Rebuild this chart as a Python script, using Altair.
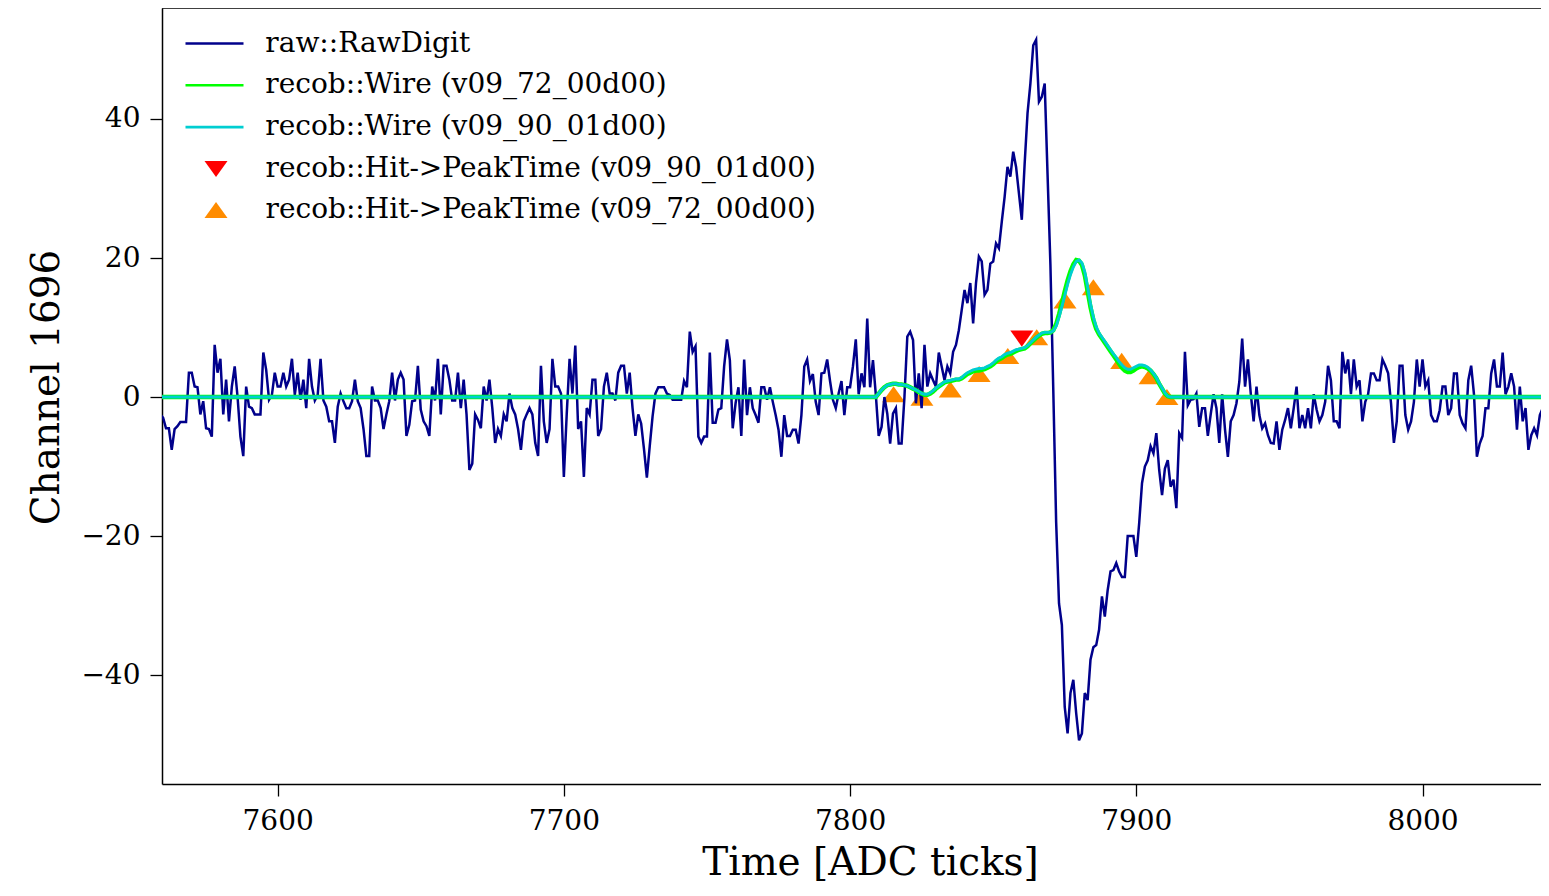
import altair as alt
import pandas as pd

FONT = "DejaVu Serif"

# ---- axes ----
x_domain = [7559.6, 8041.4]
y_domain = [-55.68, 55.97]
x_ticks = [7600, 7700, 7800, 7900, 8000]
y_ticks = [-40, -20, 0, 20, 40]
x_title = "Time [ADC ticks]"
y_title = "Channel 1696"

# ---- series names / colours ----
series_names = ["raw::RawDigit", "recob::Wire (v09_72_00d00)", "recob::Wire (v09_90_01d00)"]
series_colors = ["#00008b", "#00ff00", "#00ced1"]
hit_names = ["recob::Hit->PeakTime (v09_90_01d00)", "recob::Hit->PeakTime (v09_72_00d00)"]
hit_colors = ["#ff0000", "#ff8c00"]
hit_shapes = ["M-1,-0.7L1,-0.7L0,0.7Z", "M0,-0.7L1,0.7L-1,0.7Z"]

# ---- raw::RawDigit, one value per tick starting at 7559 ----
raw_first_tick = 7559
raw_7559 = [-2.5]
raw_7560 = [-3.0, -4.5, -4.5, -7.6, -4.6, -4.2, -3.6, -3.6, -3.6, 3.5,
            3.5, 1.5, 1.4, -2.5, -0.6, -4.5, -4.6, -5.7, 7.5, 3.5,
            5.5, -2.5, 2.5, -3.5, 1.5, 4.4, 0.0, -5.7, -8.5, 1.5,
            -1.4, -1.6, -2.5, -2.5, -2.5, 6.4, 3.9, -0.4, 0.3, 3.5,
            1.5, 1.5, 3.5, 1.5, 2.5, 5.5, 0.3, 3.5, -0.4, 2.5,
            -1.6, 5.5, 1.5, -0.5, 0.3, 5.5, -0.5, -1.4, -3.5, -3.5,
            -6.6, -1.4, 0.5, -0.6, -1.6, -1.6, -0.6, 2.5, -0.6, -1.6,
            -4.6, -8.5, -8.5, 1.5, -0.5, -0.5, -1.6, -4.6, -2.5, -0.6,
            3.5, -0.5, 2.5, 3.5]
raw_7644 = [2.5, -5.6, -4.0, -0.6, -0.5, 4.5, -1.8, -3.5, -4.2, -5.6,
            1.5, -0.5, 5.5, -2.5, 4.5, 4.5, 2.5, -0.5, -0.5, 3.5,
            -1.6, 2.5, -2.5, -10.5, -9.6, -2.5, -3.3, -4.5, 1.5, -0.5,
            2.5, -1.6, -6.6, -4.6, -5.6, -2.5, -3.5, 0.5, -1.6, -2.5,
            -4.6, -7.6, -3.5, -2.5, -1.6, -2.5, -6.6, -8.5, 4.5, -3.5,
            -6.6, -4.6, 5.5, 1.5, 1.5, 0.5, -11.5, -2.5, 5.5, 0.5,
            7.4, -4.6, -3.5, -11.5, -1.6, -2.5, 2.5, 2.5, -5.6, -4.6,
            1.5, 3.5, 0.5, 0.5, -0.5, 3.5, 4.5, 4.5, 0.5, 3.5,
            -1.6, -5.6, -2.5]
raw_7727 = [-3.8, -7.5, -11.6, -7.1, -2.8, 0.5, 1.4, 1.4, 1.4, 0.5,
            0.3, -0.4, -0.4, -0.4, -0.4, 2.3, 1.4, 9.4, 6.5, 7.3,
            -5.7, -6.6, -5.7, -5.7, 6.4, -3.7, -3.7, -1.8, -1.6, 4.4,
            8.3, 5.3, -4.5, -0.9, 1.4, -5.6, 5.4, -2.6, 1.4, -1.6,
            -2.6, -3.7, 1.4, 1.4, -0.4, 1.4, -0.7, -2.6, -4.7, -8.6,
            -2.6, -5.6, -5.6, -4.7, -4.7, -6.7, -2.6, 4.4, 5.4, 2.3,
            3.3, -0.7, -2.6, 3.4, 3.5, 5.4, 2.3, -0.4, -1.6, 0.5,
            2.3, -2.6, 1.4, 1.4, 4.4, 8.3, 0.4, 3.4, 1.4, 11.3,
            1.4, 5.3, 0.3, -5.6]
raw_7811 = [-4.3, 0.0, -2.4, -6.7, -2.4, -1.6, -6.7, -6.7, 0.0, 8.7,
            9.4, 8.2, -0.9, 3.4, -1.6, 7.5, 1.5, 3.4, 2.4, 1.5,
            6.4, 4.4, 2.4, 4.4, 3.4, 6.5, 7.5, 9.6, 12.5, 15.4,
            13.5, 16.4, 10.6, 16.4, 20.2, 19.5, 14.7, 15.4, 19.2, 19.5,
            22.1, 21.4, 25.2, 28.8, 33.1, 31.7, 35.3, 33.1, 29.3, 25.5,
            33.6, 40.8, 45.1, 50.6, 51.4, 42.5, 43.2, 45.1, 32.0, 19.0,
            1.0, -18.0, -29.7]
raw_7874 = [-32.8, -44.6, -48.4, -42.6, -40.7, -45.5, -49.4, -48.4, -42.6, -43.6,
            -37.8, -36.0, -35.7, -33.5, -28.7, -31.6, -27.8, -25.1, -24.9, -23.9,
            -25.1, -25.9, -25.9, -20.0, -20.0, -20.0, -23.0, -18.2, -12.4, -10.0,
            -9.1, -7.1, -8.1, -5.2, -10.5, -14.1, -10.3, -9.1, -12.9, -11.9,
            -16.0, -5.2, -5.9, 6.5, -1.2, -0.4, -0.3, 0.5, -4.3]
raw_7923 = [-1.6, -1.6, -5.6, -2.5, 0.4, -1.6, -6.6, 0.4, -4.7, -8.6,
            -3.5, -2.6, -0.9, 2.2, 8.4, 1.5, 5.4, 0.5, -3.5, 1.5,
            -2.6, -4.5, -3.8, -5.5, -6.6, -6.7, -3.5, -7.6, -4.7, -3.3,
            -1.6, -4.5, -1.6, 1.5, -4.5, -2.6, -4.5, -1.6, -4.5, 0.4,
            -1.8, -3.5, -2.6, -0.7, 4.5, 2.4, -3.5, -3.5, -4.5, 6.5,
            3.4, 5.4, 0.4, 5.4, 1.5, 2.4, -3.5, -0.7, 0.4, 3.4,
            3.4, 2.4, 2.4]
raw_7986 = [5.4, 4.5, 3.4, -0.9, -6.6, -3.5, 4.5, 4.5, -2.6, -4.7,
            -3.5, -0.7, 5.4, 1.5, 5.4, 1.5, 2.4, -2.6, -3.5, -3.5,
            -1.9, 1.5, 1.5, -2.6, -1.6, 3.4, 3.4, -2.6, -3.8, -4.5,
            2.4, 4.5, 0.3, -8.6, -6.7, -5.6, -1.6, -1.6, 3.4, 5.4,
            1.5, 1.5, 6.4, 0.4, 1.5, 3.4, 1.5, -4.7, 1.5, -3.5,
            -1.6, -7.6, -5.5, -4.5, -5.5, -2.6, -1.6, 6.4, -2.6, -3.0]

# ---- recob::Wire signals (zero outside the region of interest) ----
wire_edges = [7559, 8045]
wire_first_tick = 7809
wire_v09_72 = [0.0,
               0.5, 1.0, 1.4, 1.7, 1.8, 1.9, 1.9, 1.8, 1.8, 1.7,
               1.6, 1.4, 1.2, 1.0, 0.7, 0.5, 0.3, 0.3, 0.5, 0.8,
               1.2, 1.5, 1.8, 2.1, 2.2, 2.3, 2.4, 2.5, 2.5, 2.7,
               3.0, 3.3, 3.5, 3.7, 3.8, 3.8, 3.9, 4.0, 4.2, 4.4,
               4.7, 5.1, 5.4, 5.6, 5.9, 6.1, 6.2, 6.4, 6.6, 6.8,
               6.9, 7.0, 7.3, 7.7, 8.1, 8.5, 8.8, 9.1, 9.2, 9.2,
               9.3, 9.6, 10.5, 11.9, 13.5, 15.2, 16.8, 18.1, 19.1, 19.7,
               19.6, 19.0, 17.5, 15.2, 12.9, 11.1, 9.8, 9.0, 8.4, 7.8,
               7.2, 6.6, 6.0, 5.4, 4.8, 4.2, 3.8, 3.6, 3.6, 3.8,
               4.1, 4.3, 4.4, 4.3, 4.1, 3.8, 3.3, 2.7, 1.9, 1.2,
               0.5, 0.1, 0.0]
wire_v09_90 = [0.0,
               0.5, 1.0, 1.4, 1.7, 1.8, 1.9, 1.9, 1.8, 1.8, 1.7,
               1.6, 1.4, 1.2, 1.0, 0.8, 0.5, 0.4, 0.4, 0.6, 0.9,
               1.3, 1.6, 1.9, 2.2, 2.3, 2.4, 2.5, 2.6, 2.6, 2.8,
               3.2, 3.5, 3.7, 3.9, 4.0, 4.1, 4.1, 4.2, 4.4, 4.6,
               4.9, 5.3, 5.6, 5.8, 6.1, 6.3, 6.4, 6.6, 6.8, 6.9,
               7.0, 7.1, 7.4, 7.8, 8.2, 8.6, 8.9, 9.2, 9.3, 9.3,
               9.3, 9.5, 10.2, 11.5, 13.0, 14.6, 16.2, 17.6, 18.7, 19.5,
               19.7, 19.3, 18.0, 15.8, 13.4, 11.5, 10.1, 9.2, 8.6, 8.0,
               7.4, 6.8, 6.2, 5.7, 5.1, 4.6, 4.2, 4.0, 4.0, 4.2,
               4.4, 4.6, 4.6, 4.5, 4.3, 3.9, 3.4, 2.8, 2.0, 1.3,
               0.6, 0.1, 0.0]

# ---- recob::Hit peak times ----
hit_v09_90_time = [7860.0]
hit_v09_90_amp = [8.4]
hit_v09_72_time = [7815.2, 7825.1, 7835.0, 7845.1, 7855.1, 7865.2,
                   7875.1, 7885.0, 7894.9, 7904.8, 7910.7]
hit_v09_72_amp = [0.4, -0.1, 1.1, 3.3, 5.9, 8.6, 13.9, 15.8, 5.2, 3.0, 0.0]

# ---- tables ----
raw_values = raw_7559 + raw_7560 + raw_7644 + raw_7727 + raw_7811 + raw_7874 + raw_7923 + raw_7986
raw_df = pd.DataFrame({
    "tick": list(range(raw_first_tick, raw_first_tick + len(raw_values))),
    "adc": raw_values,
    "series": series_names[0],
})


def wire_table(values, name):
    ticks = [wire_edges[0]] + list(range(wire_first_tick, wire_first_tick + len(values))) + [wire_edges[1]]
    vals = [0.0] + values + [0.0]
    return pd.DataFrame({"tick": ticks, "adc": vals, "series": name})


w72_df = wire_table(wire_v09_72, series_names[1])
w90_df = wire_table(wire_v09_90, series_names[2])

hits_df = pd.concat([
    pd.DataFrame({"tick": hit_v09_90_time, "adc": hit_v09_90_amp, "hit": hit_names[0]}),
    pd.DataFrame({"tick": hit_v09_72_time, "adc": hit_v09_72_amp, "hit": hit_names[1]}),
], ignore_index=True)

PLOT_W = 1379
PLOT_H = 776

# ---- encodings ----
x_axis = alt.Axis(values=x_ticks, format="d", title=x_title, grid=False,
                  tickSize=12, tickWidth=1.3, labelPadding=11,
                  titleX=708, titleY=78, titleBaseline="middle", titleAlign="center")
y_axis = alt.Axis(values=y_ticks, format="d", title=y_title, grid=False,
                  tickSize=12, tickWidth=1.3, labelPadding=10,
                  titleX=-116, titleY=379, titleBaseline="middle", titleAlign="center", titleAngle=270)

X = alt.X("tick:Q", scale=alt.Scale(domain=x_domain, nice=False, zero=False), axis=x_axis)
Y = alt.Y("adc:Q", scale=alt.Scale(domain=y_domain, nice=False, zero=False), axis=y_axis)

line_legend = alt.Legend(title=None, orient="none", legendX=31, legendY=14,
                         symbolType="M-1.45,0H1.45", symbolSize=1600, symbolStrokeWidth=2.6,
                         labelFont=FONT, labelFontSize=28, labelColor="black",
                         labelOffset=29.3, rowPadding=5.8, padding=0, labelLimit=900)
hit_legend = alt.Legend(title=None, orient="none", legendX=40, legendY=147,
                        symbolSize=529, symbolStrokeWidth=0,
                        labelFont=FONT, labelFontSize=28, labelColor="black",
                        labelOffset=35.5, rowPadding=13, padding=0, labelLimit=900)

stroke_enc = alt.Stroke("series:N", scale=alt.Scale(domain=series_names, range=series_colors),
                        legend=line_legend)

hits = alt.Chart(hits_df).mark_point(filled=True, size=529, opacity=1, strokeWidth=0, clip=True).encode(
    x=X, y=Y,
    fill=alt.Fill("hit:N", scale=alt.Scale(domain=hit_names, range=hit_colors), legend=hit_legend),
    shape=alt.Shape("hit:N", scale=alt.Scale(domain=hit_names, range=hit_shapes), legend=hit_legend),
)
raw = alt.Chart(raw_df).mark_line(strokeWidth=2.5, clip=True).encode(x=X, y=Y, stroke=stroke_enc)
w72 = alt.Chart(w72_df).mark_line(strokeWidth=4.4, clip=True).encode(x=X, y=Y, stroke=stroke_enc)
w90 = alt.Chart(w90_df).mark_line(strokeWidth=2.9, clip=True).encode(x=X, y=Y, stroke=stroke_enc)

# top frame line of the axes box (the right side is cut off in the reference)
top_frame = alt.Chart(pd.DataFrame({"edge": [0]})).mark_rule(color="black", strokeWidth=1.5).encode(
    x=alt.value(0), x2=alt.value(PLOT_W), y=alt.value(0)
)

chart = alt.layer(hits, raw, w72, w90, top_frame).properties(
    width=PLOT_W, height=PLOT_H,
    padding={"left": 154, "top": 0, "right": 0, "bottom": 98},
    autosize=alt.AutoSizeParams(type="none"),
).configure_view(
    stroke="transparent"
).configure_axis(
    labelFont=FONT, labelFontSize=28, labelColor="black",
    titleFont=FONT, titleFontSize=39, titleFontWeight="normal", titleColor="black",
    domainColor="black", domainWidth=1.5, tickColor="black",
)

chart.save("out.html", embed_options={"renderer": "svg", "actions": False})
